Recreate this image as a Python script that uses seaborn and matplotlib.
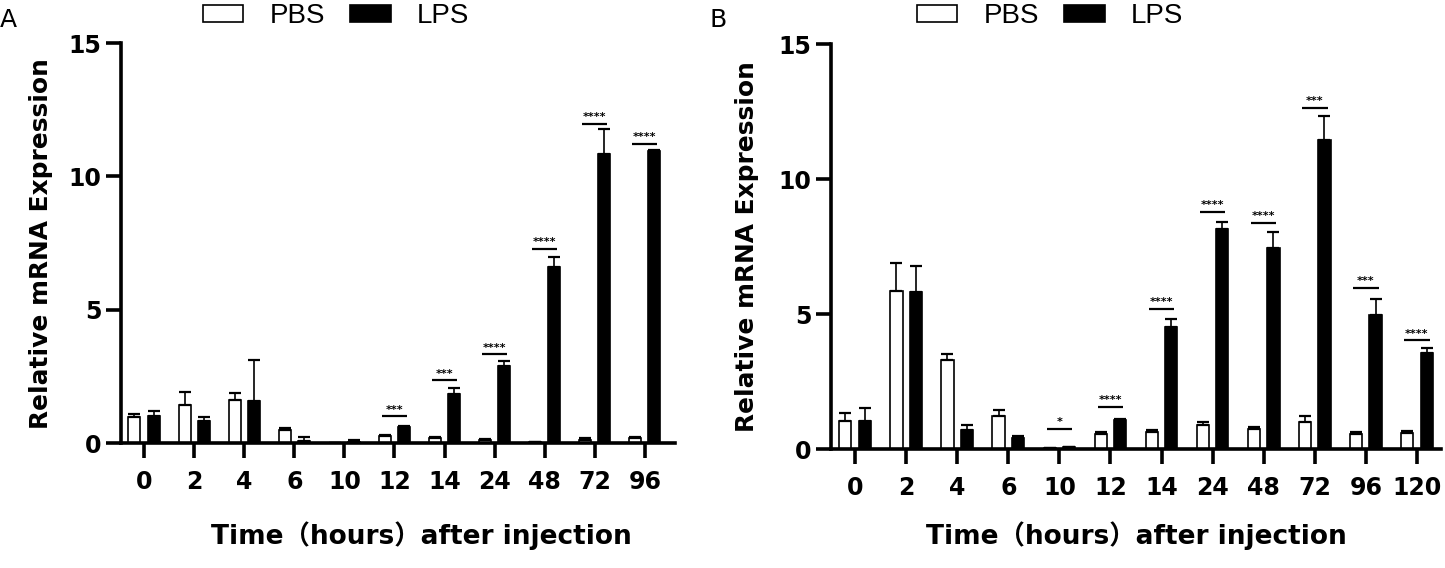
import numpy as np
import pandas as pd
import matplotlib
matplotlib.use('Agg')
import matplotlib.pyplot as plt
import seaborn as sns

# Panel A data
times_a = ['0', '2', '4', '6', '10', '12', '14', '24', '48', '72', '96']
pbs_a = [0.98, 1.44, 1.60, 0.48, 0.01, 0.25, 0.18, 0.10, 0.04, 0.13, 0.19]
pbs_a_err = [0.10, 0.46, 0.28, 0.07, 0.00, 0.05, 0.05, 0.04, 0.00, 0.06, 0.04]
lps_a = [1.00, 0.81, 1.57, 0.08, 0.04, 0.60, 1.85, 2.90, 6.61, 10.83, 10.96]
lps_a_err = [0.20, 0.17, 1.53, 0.15, 0.08, 0.05, 0.22, 0.18, 0.38, 0.94, 0.03]
sig_a_idx = [5, 6, 7, 8, 9, 10]
sig_a_y = [1.00, 2.35, 3.33, 7.29, 11.97, 11.22]
sig_a_txt = ['***', '***', '****', '****', '****', '****']

# Panel B data
times_b = ['0', '2', '4', '6', '10', '12', '14', '24', '48', '72', '96', '120']
pbs_b = [1.02, 5.86, 3.28, 1.21, 0.03, 0.57, 0.64, 0.90, 0.75, 0.99, 0.57, 0.58]
pbs_b_err = [0.31, 1.03, 0.25, 0.22, 0.01, 0.05, 0.05, 0.11, 0.06, 0.22, 0.05, 0.10]
lps_b = [1.05, 5.80, 0.69, 0.40, 0.07, 1.06, 4.51, 8.15, 7.44, 11.43, 4.95, 3.56]
lps_b_err = [0.47, 0.99, 0.21, 0.07, 0.02, 0.06, 0.30, 0.27, 0.60, 0.89, 0.61, 0.18]
sig_b_idx = [4, 5, 6, 7, 8, 9, 10, 11]
sig_b_y = [0.75, 1.56, 5.19, 8.79, 8.38, 12.63, 5.96, 4.02]
sig_b_txt = ['*', '****', '****', '****', '****', '***', '***', '****']

groups = ['PBS', 'LPS']
colors = {'PBS': 'white', 'LPS': 'black'}

sns.set_style('ticks')
plt.rcParams['font.family'] = ['DejaVu Sans', 'Noto Sans CJK SC']
plt.rcParams['font.weight'] = 'bold'
plt.rcParams['text.color'] = 'black'
plt.rcParams['axes.labelcolor'] = 'black'
plt.rcParams['axes.edgecolor'] = 'black'
plt.rcParams['xtick.color'] = 'black'
plt.rcParams['ytick.color'] = 'black'


def make_df(times, pbs, lps):
    return pd.DataFrame({
        'time': times * 2,
        'group': ['PBS'] * len(times) + ['LPS'] * len(times),
        'value': list(pbs) + list(lps),
    })


def draw_panel(ax, times, pbs, pbs_err, lps, lps_err, sig_idx, sig_y, sig_txt):
    df = make_df(times, pbs, lps)
    sns.barplot(data=df, x='time', y='value', hue='group', order=times,
                hue_order=groups, palette=colors, edgecolor='black',
                linewidth=1.2, width=0.76, gap=0.37, errorbar=None,
                legend=False, ax=ax, zorder=2)
    bars = list(ax.containers[:2])
    for cont, err in zip(bars, [pbs_err, lps_err]):
        xs = [b.get_x() + b.get_width() / 2 for b in cont]
        ys = [b.get_height() for b in cont]
        ax.errorbar(xs, ys, yerr=[np.zeros(len(err)), err], fmt='none',
                    ecolor='black', elinewidth=1.2, capsize=4.5, capthick=1.6,
                    zorder=3)
    for i, y, t in zip(sig_idx, sig_y, sig_txt):
        ax.plot([i - 0.25, i + 0.25], [y, y], color='black', lw=1.6,
                solid_capstyle='butt', zorder=3)
        ax.text(i, y + 0.06, t, ha='center', va='bottom', fontsize=8,
                fontweight='bold')
    ax.set_ylim(0, 15)
    ax.set_yticks([0, 5, 10, 15])
    sns.despine(ax=ax)
    for s in ['left', 'bottom']:
        ax.spines[s].set_linewidth(2.6)
    ax.tick_params(axis='both', length=10.5, width=2.6, labelsize=17, color='black')
    ax.tick_params(axis='y', pad=3.5)
    ax.tick_params(axis='x', pad=9)
    for lab in ax.get_xticklabels() + ax.get_yticklabels():
        lab.set_fontweight('bold')
    ax.set_ylabel('Relative mRNA Expression', fontsize=17.9, fontweight='bold')
    ax.set_xlabel('Time（hours）after injection', fontsize=19, fontweight='bold')
    return bars


fig = plt.figure(figsize=(14.45, 5.68), dpi=100)
ax_a = fig.add_axes([0.0837, 0.220, 0.3834, 0.704])
ax_b = fig.add_axes([0.5751, 0.2095, 0.4221, 0.713])

bars_a = draw_panel(ax_a, times_a, pbs_a, pbs_a_err, lps_a, lps_a_err,
                    sig_a_idx, sig_a_y, sig_a_txt)
bars_b = draw_panel(ax_b, times_b, pbs_b, pbs_b_err, lps_b, lps_b_err,
                    sig_b_idx, sig_b_y, sig_b_txt)

ax_a.set_xlim(-0.46, 10.6)
ax_b.set_xlim(-0.47, 11.47)
ax_a.yaxis.set_label_coords(-0.123, 0.5)
ax_b.yaxis.set_label_coords(-0.118, 0.5)
ax_a.xaxis.set_label_coords(0.543, -0.195)
ax_b.xaxis.set_label_coords(0.5, -0.178)

leg_font = {'family': 'Liberation Sans', 'size': 20, 'weight': 'normal'}
for bars, xc in [(bars_a, 0.2325), (bars_b, 0.7266)]:
    fig.legend(bars, groups, loc='center', bbox_to_anchor=(xc, 0.971), ncol=2,
               frameon=False, prop=leg_font, handlelength=1.47,
               handleheight=0.54, handletextpad=0.94, columnspacing=0.9)

fig.text(0.0, 0.9525, 'A', fontsize=18, fontweight='normal', va='baseline')
fig.text(0.491, 0.9525, 'B', fontsize=18, fontweight='normal', va='baseline')

fig.savefig('out.png', dpi=100)
